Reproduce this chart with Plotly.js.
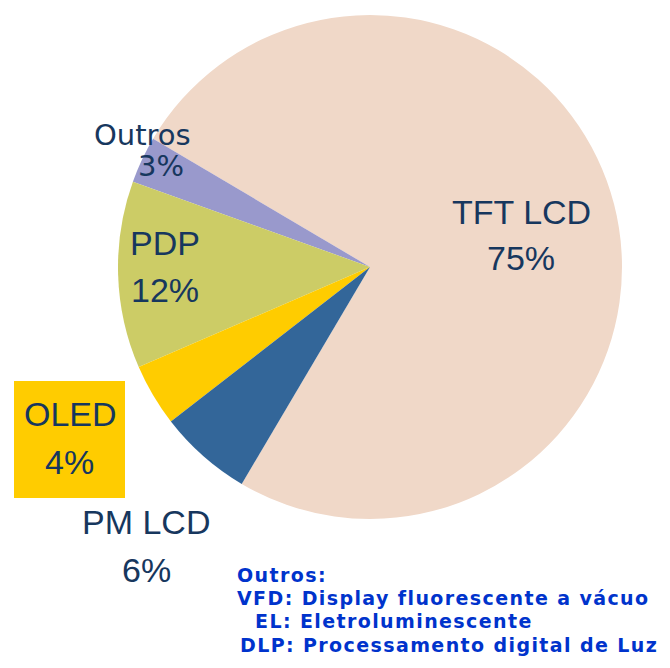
<!DOCTYPE html>
<html>
<head>
<meta charset="utf-8">
<script src="https://cdn.plot.ly/plotly-3.0.1.min.js"></script>
<style>
html,body{margin:0;padding:0;background:#fff;}
#chart{width:670px;height:668px;}
text.annotation-text[style*="19px"]{letter-spacing:1.4px;}
</style>
</head>
<body>
<div id="chart"></div>
<script>
// Data
const categories = ["TFT LCD", "Outros", "PDP", "OLED", "PM LCD"];
const shares = [75, 3, 12, 4, 6];
const sliceColors = ["#F0D8C8", "#9999CC", "#CCCC66", "#FFCC00", "#336699"];
const noteLines = [
  "Outros:",
  "VFD: Display fluorescente a vácuo",
  "EL: Eletroluminescente",
  "DLP: Processamento digital de Luz"
];

// Layout helpers (pixel positions -> paper)
const W = 670, H = 668;
const px = x => x / W;
const py = y => 1 - y / H;
const cx = 370, cy = 267, R = 252;

const labelFont = {family: "Liberation Sans, Arial, sans-serif", size: 34, color: "#17375E"};
const outrosFont = {family: "DejaVu Sans, Verdana, sans-serif", size: 29, color: "#17375E"};

// label placements (centre of each line), in pixels
const labelPos = {
  "TFT LCD": {name: [521, 212], pct: [521, 258], font: labelFont},
  "Outros":  {name: [142, 135], pct: [161, 166], font: outrosFont},
  "PDP":     {name: [165, 243], pct: [165, 290], font: labelFont},
  "OLED":    {name: [70, 414],  pct: [69, 462],  font: labelFont},
  "PM LCD":  {name: [146, 522], pct: [146, 570], font: labelFont}
};

const annotations = [];
categories.forEach((c, i) => {
  const p = labelPos[c];
  annotations.push({xref: "paper", yref: "paper", x: px(p.name[0]), y: py(p.name[1]),
    text: c, showarrow: false, xanchor: "center", yanchor: "middle", font: p.font});
  annotations.push({xref: "paper", yref: "paper", x: px(p.pct[0]), y: py(p.pct[1]),
    text: shares[i] + "%", showarrow: false, xanchor: "center", yanchor: "middle", font: p.font});
});

const noteX = [235, 235, 253, 238];
const noteY = [575, 598, 621, 645];
const noteFont = {family: "DejaVu Sans, Verdana, sans-serif", size: 19, color: "#0033CC"};
noteLines.forEach((t, i) => {
  annotations.push({xref: "paper", yref: "paper", x: px(noteX[i]), y: py(noteY[i]),
    text: "<b>" + t + "</b>", showarrow: false, xanchor: "left", yanchor: "middle", font: noteFont});
});

const trace = {
  type: "pie",
  labels: categories,
  values: shares,
  marker: {colors: sliceColors, line: {width: 0}},
  sort: false,
  direction: "counterclockwise",
  rotation: -59.4,
  textinfo: "none",
  hoverinfo: "label+percent",
  showlegend: false,
  domain: {x: [px(cx - R), px(cx + R)], y: [py(cy + R), py(cy - R)]}
};

const layout = {
  width: W, height: H,
  margin: {l: 0, r: 0, t: 0, b: 0},
  paper_bgcolor: "#ffffff",
  plot_bgcolor: "#ffffff",
  showlegend: false,
  annotations: annotations,
  shapes: [{
    type: "rect", xref: "paper", yref: "paper",
    x0: px(14), x1: px(125), y0: py(498), y1: py(381),
    fillcolor: "#FFCC00", line: {width: 0}, layer: "below"
  }]
};

Plotly.newPlot("chart", [trace], layout, {displayModeBar: false, staticPlot: true});
</script>
</body>
</html>
